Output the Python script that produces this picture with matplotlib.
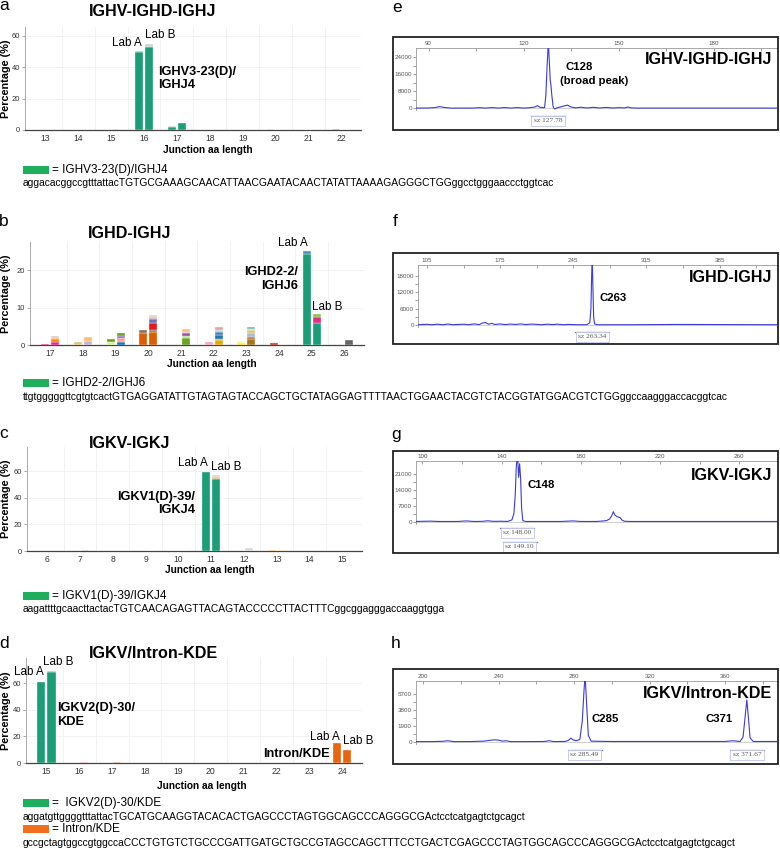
import matplotlib
matplotlib.use("Agg")
import matplotlib.pyplot as plt
import matplotlib.transforms as mtransforms
from matplotlib.patches import Rectangle

W, H = 780, 851
plt.rcParams["font.family"] = ["Liberation Sans", "DejaVu Sans"]

# ---------------- junction length histograms (percentage of reads) ----------------
# each entry: (junction aa length, lab, clone id, percentage) - stacked bottom-up
a_lengths = list(range(13, 23))
a_bars = [
    (15, "B", 1, 0.4),
    (16, "A", 0, 49.4), (16, "A", 2, 1.0),
    (16, "B", 0, 53.0), (16, "B", 3, 1.9),
    (17, "A", 0, 1.8), (17, "A", 3, 0.5),
    (17, "B", 0, 4.7),
    (20, "A", 1, 0.4),
    (22, "A", 4, 0.6), (22, "B", 1, 0.2),
]

b_lengths = list(range(17, 27))
b_bars = [
    (17, "A", 1, 0.35),
    (17, "B", 1, 0.8), (17, "B", 2, 0.9), (17, "B", 3, 0.45), (17, "B", 4, 0.35),
    (18, "A", 5, 0.7),
    (18, "B", 6, 1.15), (18, "B", 3, 1.05),
    (19, "A", 7, 0.8), (19, "A", 8, 0.7),
    (19, "B", 9, 0.7), (19, "B", 2, 0.3), (19, "B", 10, 0.8), (19, "B", 11, 0.6), (19, "B", 8, 0.7),
    (20, "A", 12, 3.3), (20, "A", 13, 0.6),
    (20, "B", 12, 3.5), (20, "B", 13, 0.6), (20, "B", 14, 1.9), (20, "B", 11, 0.9),
    (20, "B", 6, 0.5), (20, "B", 15, 0.6),
    (21, "B", 8, 1.9), (21, "B", 16, 0.4), (21, "B", 17, 0.8), (21, "B", 6, 0.4), (21, "B", 3, 0.7),
    (22, "A", 18, 0.7),
    (22, "B", 19, 1.3), (22, "B", 2, 0.3), (22, "B", 9, 1.1), (22, "B", 20, 0.9),
    (22, "B", 21, 0.4), (22, "B", 22, 0.7),
    (23, "A", 23, 0.6), (23, "A", 24, 0.4),
    (23, "B", 25, 1.6), (23, "B", 26, 0.6), (23, "B", 27, 1.1), (23, "B", 5, 0.6),
    (23, "B", 3, 0.3), (23, "B", 28, 0.5),
    (24, "A", 29, 0.55),
    (24, "B", 28, 0.12),
    (25, "A", 0, 24.4), (25, "A", 30, 0.6),
    (25, "B", 0, 5.8), (25, "B", 1, 1.7), (25, "B", 31, 0.8),
    (26, "B", 32, 1.3),
]

c_lengths = list(range(6, 16))
c_bars = [
    (7, "B", 4, 0.4),
    (9, "B", 15, 0.3),
    (10, "A", 4, 0.3), (10, "B", 4, 0.3),
    (11, "A", 0, 59.2),
    (11, "B", 0, 54.2), (11, "B", 5, 1.6), (11, "B", 33, 1.4),
    (12, "B", 33, 2.5),
    (13, "A", 3, 0.6), (13, "B", 15, 0.6),
]

d_lengths = list(range(15, 25))
d_bars = [
    (15, "A", 0, 61.2),
    (15, "B", 0, 68.2), (15, "B", 22, 1.2),
    (16, "B", 18, 0.5),
    (17, "B", 22, 1.0),
    (24, "A", 34, 15.0),
    (24, "B", 34, 10.0),
]

clone_colors = {
    0: "#1b9e77", 1: "#e7298a", 2: "#ff7f00", 3: "#fdbf6f", 4: "#c9c0c8",
    5: "#dfc27d", 6: "#cab2d6", 7: "#d9ef8b", 8: "#66a61e", 9: "#1f78b4",
    10: "#fb9a99", 11: "#7570b3", 12: "#d95f02", 13: "#8c6d5a", 14: "#e31a1c",
    15: "#fdcdac", 16: "#b2df8a", 17: "#984ea3", 18: "#f4a3c8", 19: "#e6ab02",
    20: "#4a7fb8", 21: "#a6cee3", 22: "#e5a58f", 23: "#ffe119", 24: "#fff3a0",
    25: "#a6761d", 26: "#c0622b", 27: "#a9bdcc", 28: "#66c2a5", 29: "#d7301f",
    30: "#4a90c8", 31: "#8dc63f", 32: "#666666", 33: "#d8d8d8", 34: "#e8650f",
}
a_colors = {0: "#1b9e77", 1: "#f4b6a0", 2: "#f0a090", 3: "#c8d8d0", 4: "#e6ab02"}

# ---------------- fragment analysis traces (size, fluorescence) ----------------
e_x = [86, 90, 92, 93.5, 95, 97, 104, 106, 108, 110, 112, 114, 116, 118, 120, 122,
       123.5, 124.3, 125.3, 126.6, 127.0, 127.4, 127.8, 128.1, 128.4, 128.6, 128.9,
       129.3, 129.7, 130.5, 132.0, 133.8, 135, 136.5, 138, 140, 142, 144, 146, 148,
       150, 152, 152.8, 154, 156, 200]
e_y = [100, 150, 350, 800, 400, 100, 100, 300, 100, 350, 100, 350, 100, 350, 100, 300,
       600, 1200, 400, 300, 6000, 20000, 31000, 22000, 13000, 11000, 6000,
       800, -300, 200, 800, 1500, 600, 200, 500, 150, 450, 150, 400, 150,
       300, 200, 600, 200, 100, 100]
e_peaks = [127.78]

f_x = [96, 105, 110, 115, 120, 125, 130, 140, 145, 150, 155, 158, 161, 164, 167, 170,
       175, 180, 185, 190, 195, 200, 205, 215, 220, 225, 230, 235, 240, 250, 258,
       260.8, 261.9, 262.6, 263.2, 263.8, 264.5, 265.4, 268, 300, 345, 440]
f_y = [100, 250, 100, 300, 100, 350, 100, 300, 100, 400, 150, 700, 900, 300, 600, 200,
       400, 150, 350, 200, 400, 150, 350, 100, 300, 150, 300, 100, 200, 100, 100,
       800, 6000, 18000, 24000, 14000, 3000, 400, 100, 100, 200, 100]
f_peaks = [263.34]

g_x = [97, 104, 108, 118, 122, 126, 130, 133, 136, 140, 143, 145.2, 146.2, 146.9,
       147.4, 148.0, 148.6, 149.1, 149.6, 150.1, 150.7, 152, 160, 170, 176, 180, 188,
       191, 193, 194.5, 195.5, 196.4, 197.3, 198.3, 199.8, 200.8, 202, 205, 220, 279]
g_y = [100, 250, 100, 100, 350, 100, 150, 400, 150, 200, 100, 800, 3500, 12000,
       24000, 30000, 19500, 25500, 19000, 6000, 500, 100, 100, 100, 350, 100, 100,
       300, 500, 1200, 2500, 4400, 2800, 2200, 1800, 700, 200, 100, 100, 100]
g_peaks = [148.00, 149.10]

h_x = [196, 205, 210, 213, 216, 225, 232, 236, 238, 240, 242, 244, 246, 255, 264,
       266.7, 269, 275, 277, 278.2, 279.5, 281, 283, 284.3, 285.2, 285.8, 286.5, 287.5,
       289, 300, 340, 360, 364, 368, 369.6, 370.6, 371.6, 372.4, 373.3, 375, 387.6]
h_y = [50, 50, 80, 150, 50, 50, 100, 220, 260, 220, 100, 150, 50, 50, 60,
       150, 50, 60, 200, 450, 250, 150, 300, 2500, 6000, 8000, 5000, 800,
       100, 60, 60, 60, 150, 60, 600, 2800, 5000, 3000, 500, 60, 60]
h_peaks = [285.49, 371.67]


fig = plt.figure(figsize=(W / 100, H / 100), dpi=100)


def px(l, t, r, b):
    return [l / W, 1 - b / H, (r - l) / W, (b - t) / H]


def ftext(x, y, s, **kw):
    kw.setdefault("va", "center")
    fig.text(x / W, 1 - y / H, s, **kw)


def bar_panel(box, lengths, bars, colors, ymax, yticks):
    ax = fig.add_axes(px(*box))
    stack = {}
    for length, lab, clone, pct in bars:
        x = length + (-0.155 if lab == "A" else 0.155)
        b = stack.get((length, lab), 0.0)
        ax.bar(x, pct, width=0.245, bottom=b, color=colors[clone],
               edgecolor="white", linewidth=0.25, zorder=3)
        stack[(length, lab)] = b + pct
    ax.set_xticks(lengths)
    ax.set_xticks([v + 0.5 for v in lengths[:-1]], minor=True)
    ax.set_yticks(yticks)
    ax.set_xlim(lengths[0] - 0.62, lengths[-1] + 0.6)
    ax.set_ylim(0, ymax)
    ax.tick_params(axis="x", which="both", length=0, labelsize=6.2, colors="#333", pad=3)
    ax.tick_params(axis="y", length=2, width=0.5, labelsize=5.5, colors="#333",
                   pad=1.5, color="#888")
    ax.grid(True, which="minor", axis="x", color="#f0f0f0", lw=0.6)
    ax.grid(True, which="major", axis="y", color="#f0f0f0", lw=0.6)
    ax.set_axisbelow(True)
    for s in ("top", "right"):
        ax.spines[s].set_visible(False)
    ax.spines["left"].set_color("#aaaaaa")
    ax.spines["left"].set_linewidth(0.7)
    ax.spines["bottom"].set_color("#444444")
    ax.spines["bottom"].set_linewidth(0.9)
    return ax


def trace_panel(frame, box, zero, xs, ys, xlim, ymax, xt, yt, title, ty):
    l, t, r = box
    unit = (zero - t) / ymax
    fig.add_artist(Rectangle((frame[0] / W, 1 - frame[3] / H),
                             (frame[2] - frame[0]) / W, (frame[3] - frame[1]) / H,
                             transform=fig.transFigure, fill=False, ec="#222", lw=1.3))
    ax = fig.add_axes(px(l, t, r, zero + 2))
    ax.axhline(0, color="#c8c8c8", lw=0.6, zorder=1)
    ax.plot(xs, ys, color="#3b3bd8", lw=0.8, zorder=3)
    ax.xaxis.tick_top()
    ax.set_xticks(xt)
    step = xt[1] - xt[0]
    ax.set_xticks([v + step / 2 for v in [xt[0] - step] + xt
                   if xlim[0] < v + step / 2 < xlim[1]], minor=True)
    ax.set_yticks(yt)
    ax.set_yticks([v + (yt[1] - yt[0]) / 2 for v in yt[:-1]], minor=True)
    ax.set_xlim(*xlim)
    ax.set_ylim(-2 / unit, ymax)
    ax.tick_params(axis="x", which="both", direction="in", length=2, width=0.5,
                   color="#777", labelsize=4.5, labelcolor="#555", pad=1.5)
    ax.tick_params(axis="y", which="both", length=2, width=0.5, color="#777",
                   labelsize=4.5, labelcolor="#555", pad=1)
    for s in ("bottom", "right"):
        ax.spines[s].set_visible(False)
    for s in ("top", "left"):
        ax.spines[s].set_color("#999")
        ax.spines[s].set_linewidth(0.6)
    ftext(772, ty, title, ha="right", fontsize=11.6, fontweight="bold")
    return ax


def sz_label(ax, peak, ypx):
    tr = mtransforms.blended_transform_factory(ax.transData, fig.transFigure)
    ax.text(peak, 1 - ypx / H, "sz %.2f" % peak, transform=tr, ha="center", va="center",
            fontsize=5.3, family="Liberation Serif", color="#555", clip_on=False,
            bbox=dict(boxstyle="square,pad=0.35", fc="white", ec="#c0c4ec", lw=0.6))
    x0, x1 = ax.get_xlim()
    half = 17.0 / (ax.get_position().width * W) * (x1 - x0)
    ax.plot([peak - half, peak + half], [1 - (ypx - 5.5) / H] * 2, transform=tr,
            color="#6a70d8", lw=0.9, clip_on=False)
    ax.set_xlim(x0, x1)


# ---------------- left column ----------------
panels = [
    ("a", 6, "IGHV-IGHD-IGHJ", 153, 11, (25, 27, 361, 130), a_lengths, a_bars, a_colors,
     65.5, [0, 20, 40, 60], 208, 150),
    ("b", 222, "IGHD-IGHJ", 130, 233, (30, 242, 364, 345), b_lengths, b_bars, clone_colors,
     27.5, [0, 10, 20], 212, 364),
    ("c", 433, "IGKV-IGKJ", 130, 443, (27, 447, 362, 551), c_lengths, c_bars, clone_colors,
     78, [0, 20, 40, 60], 210, 570),
    ("d", 643, "IGKV/Intron-KDE", 153, 653, (26, 658, 362, 763), d_lengths, d_bars,
     clone_colors, 79, [0, 20, 40, 60], 202, 786),
]
for (letter, ly, title, tx, ty, box, lengths, bars, cols, ymax, yt, xlx, xly) in panels:
    bar_panel(box, lengths, bars, cols, ymax, yt)
    ftext(4, ly, letter, ha="center", fontsize=12.5)
    ftext(tx, ty, title, ha="center", fontsize=11.6, fontweight="bold")
    ftext(6.5, (box[1] + box[3]) / 2, "Percentage (%)", ha="center", rotation=90,
          fontsize=7.8, fontweight="bold")
    ftext(xlx, xly, "Junction aa length", ha="center", fontsize=7.3, fontweight="bold")

lab_kw = dict(fontsize=8.4, ha="center")
gene_kw = dict(fontsize=9.2, fontweight="bold")
ftext(127, 43, "Lab A", **lab_kw)
ftext(160, 35, "Lab B", **lab_kw)
ftext(158, 72, "IGHV3-23(D)/", ha="left", **gene_kw)
ftext(158, 85, "IGHJ4", ha="left", **gene_kw)

ftext(293, 243, "Lab A", **lab_kw)
ftext(327, 307, "Lab B", **lab_kw)
ftext(298, 272, "IGHD2-2/", ha="right", **gene_kw)
ftext(298, 286, "IGHJ6", ha="right", **gene_kw)

ftext(193, 463, "Lab A", **lab_kw)
ftext(226, 467, "Lab B", **lab_kw)
ftext(195, 497, "IGKV1(D)-39/", ha="right", **gene_kw)
ftext(195, 510, "IGKJ4", ha="right", **gene_kw)

ftext(28.5, 672, "Lab A", **lab_kw)
ftext(58, 662, "Lab B", **lab_kw)
ftext(57, 708, "IGKV2(D)-30/", ha="left", **gene_kw)
ftext(57, 722, "KDE", ha="left", **gene_kw)
ftext(330, 754, "Intron/KDE", ha="right", **gene_kw)
ftext(325, 737, "Lab A", **lab_kw)
ftext(358, 741, "Lab B", **lab_kw)

# legend rows with the junction sequence of each dominant clone
legend_rows = [
    (170, "#1fae5b", "= IGHV3-23(D)/IGHJ4",
     "aggacacggccgtttattacTGTGCGAAAGCAACATTAACGAATACAACTATATTAAAAGAGGGCTGGggcctgggaaccctggtcac"),
    (383, "#1fae5b", "= IGHD2-2/IGHJ6",
     "ttgtgggggttcgtgtcactGTGAGGATATTGTAGTAGTACCAGCTGCTATAGGAGTTTTAACTGGAACTACGTCTACGGTATGGACGTCTGGggccaagggaccacggtcac"),
    (596, "#1fae5b", "= IGKV1(D)-39/IGKJ4",
     "aagattttgcaacttactacTGTCAACAGAGTTACAGTACCCCCTTACTTTCggcggagggaccaaggtgga"),
    (803, "#1fae5b", "=  IGKV2(D)-30/KDE",
     "aggatgttggggtttattacTGCATGCAAGGTACACACTGAGCCCTAGTGGCAGCCCAGGGCGActcctcatgagtctgcagct"),
    (829, "#f07020", "= Intron/KDE",
     "gccgctagtggccgtggccaCCCTGTGTCTGCCCGATTGATGCTGCCGTAGCCAGCTTTCCTGACTCGAGCCCTAGTGGCAGCCCAGGGCGActcctcatgagtctgcagct"),
]
for y, col, name, seq in legend_rows:
    fig.add_artist(Rectangle((23 / W, 1 - (y + 4) / H), 26 / W, 8 / H,
                             transform=fig.transFigure, color=col, lw=0))
    ftext(52, y, name, ha="left", fontsize=8.5)
    ftext(23, y + 13.5, seq, ha="left", fontsize=7.4)

# ---------------- right column ----------------
ax = trace_panel((393, 37, 778, 130), (416, 47.7, 777), 108.3, e_x, e_y, (86, 200), 28500,
                 [90, 120, 150, 180], [0, 8000, 16000, 24000], "IGHV-IGHD-IGHJ", 60)
ftext(397, 7, "e", ha="center", fontsize=12.5)
ftext(566, 67, "C128", ha="left", fontsize=8.2, fontweight="bold")
ftext(560, 81, "(broad peak)", ha="left", fontsize=8.2, fontweight="bold")
sz_label(ax, e_peaks[0], 121)

ax = trace_panel((393, 253, 778, 344), (418, 265, 777), 325, f_x, f_y, (96.4, 440), 21950,
                 [105, 175, 245, 315, 385], [0, 6000, 12000, 18000], "IGHD-IGHJ", 277)
ftext(395, 222, "f", ha="center", fontsize=12.5)
ftext(599, 298, "C263", ha="left", fontsize=8.2, fontweight="bold")
sz_label(ax, f_peaks[0], 337)

ax = trace_panel((393, 451, 778, 553), (416, 461, 777), 521.7, g_x, g_y, (96.8, 279), 26700,
                 [100, 140, 180, 220, 260], [0, 7000, 14000, 21000], "IGKV-IGKJ", 475)
ftext(396, 435, "g", ha="center", fontsize=12.5)
ftext(528, 485, "C148", ha="left", fontsize=8.2, fontweight="bold")
sz_label(ax, g_peaks[0], 533)
sz_label(ax, g_peaks[1], 547)

ax = trace_panel((393, 669, 778, 764), (416, 681, 777), 742, h_x, h_y, (196.1, 387.6), 7240,
                 [200, 240, 280, 320, 360], [0, 1900, 3800, 5700], "IGKV/Intron-KDE", 693)
ftext(396, 643, "h", ha="center", fontsize=12.5)
ftext(592, 719, "C285", ha="left", fontsize=8.2, fontweight="bold")
ftext(705, 719, "C371", ha="left", fontsize=8.2, fontweight="bold")
sz_label(ax, h_peaks[0], 755)
sz_label(ax, h_peaks[1], 755)

fig.savefig("out.png", dpi=100)
